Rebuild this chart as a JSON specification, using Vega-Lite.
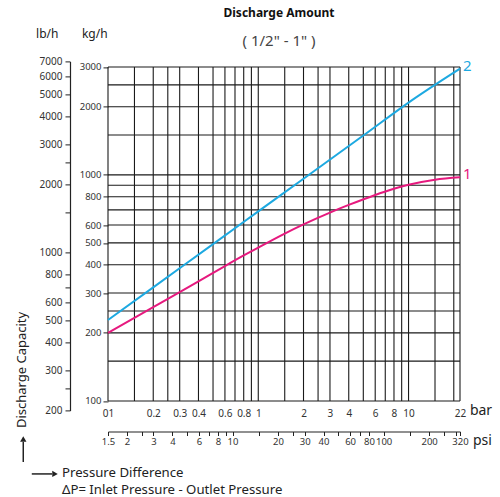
{
  "$schema": "https://vega.github.io/schema/vega-lite/v6.json",
  "autosize": {"type": "none"},
  "padding": {"left": 108, "top": 61.4, "right": 40, "bottom": 86.5},
  "width": 352,
  "height": 349.1,
  "background": "white",
  "config": {"font": "Noto Sans", "view": {"stroke": null}},
  "title": {
    "text": "Discharge Amount",
    "subtitle": "(  1/2\"  -   1\"  )",
    "frame": "group",
    "anchor": "middle",
    "offset": -22,
    "dx": -5,
    "fontSize": 12,
    "fontWeight": "bold",
    "color": "#111",
    "subtitleFontSize": 15,
    "subtitleColor": "#444",
    "subtitlePadding": 14
  },
  "datasets": {
    "vgrid": [
      {"bar": 0.1}, {"bar": 0.15}, {"bar": 0.2}, {"bar": 0.25}, {"bar": 0.3}, {"bar": 0.4}, {"bar": 0.5}, {"bar": 0.6}, {"bar": 0.7}, {"bar": 0.8}, {"bar": 0.9},
      {"bar": 1}, {"bar": 1.5}, {"bar": 2}, {"bar": 2.5}, {"bar": 3}, {"bar": 4}, {"bar": 5}, {"bar": 6}, {"bar": 7}, {"bar": 8}, {"bar": 9},
      {"bar": 10}, {"bar": 15}, {"bar": 20}, {"bar": 22}
    ],
    "hgrid": [
      {"kg": 100}, {"kg": 150}, {"kg": 200}, {"kg": 250}, {"kg": 300}, {"kg": 400}, {"kg": 500}, {"kg": 600}, {"kg": 700}, {"kg": 800}, {"kg": 900},
      {"kg": 1000}, {"kg": 1500}, {"kg": 2000}, {"kg": 2500}, {"kg": 3000}
    ],
    "curves": [
      {"s": "2", "bar": 0.1, "kg": 228}, {"s": "2", "bar": 0.2, "kg": 318}, {"s": "2", "bar": 0.5, "kg": 494}, {"s": "2", "bar": 1, "kg": 689},
      {"s": "2", "bar": 2, "kg": 961}, {"s": "2", "bar": 5, "kg": 1492}, {"s": "2", "bar": 10, "kg": 2088}, {"s": "2", "bar": 22, "kg": 2950},
      {"s": "1", "bar": 0.1, "kg": 200}, {"s": "1", "bar": 0.2, "kg": 260}, {"s": "1", "bar": 0.3, "kg": 303}, {"s": "1", "bar": 0.4, "kg": 338},
      {"s": "1", "bar": 0.6, "kg": 395}, {"s": "1", "bar": 0.8, "kg": 440}, {"s": "1", "bar": 1, "kg": 477}, {"s": "1", "bar": 1.5, "kg": 550},
      {"s": "1", "bar": 2, "kg": 604}, {"s": "1", "bar": 3, "kg": 681}, {"s": "1", "bar": 4, "kg": 736}, {"s": "1", "bar": 6, "kg": 815},
      {"s": "1", "bar": 8, "kg": 868}, {"s": "1", "bar": 10, "kg": 904}, {"s": "1", "bar": 15, "kg": 952}, {"s": "1", "bar": 22, "kg": 975}
    ]
  },
  "layer": [
    {
      "layer": [
        {
          "data": {"name": "vgrid"},
          "mark": {"type": "rule", "color": "#1a1a1a", "strokeWidth": 1.1},
          "encoding": {
            "x": {
              "field": "bar", "type": "quantitative",
              "scale": {"type": "log", "domain": [0.1, 22], "nice": false},
              "axis": {
                "orient": "bottom", "title": null,
                "values": [0.1, 0.2, 0.3, 0.4, 0.6, 0.8, 1, 2, 3, 4, 6, 8, 10, 22],
                "labelExpr": "datum.value == 0.1 ? '01' : format(datum.value, '~g')",
                "ticks": false, "domain": false, "grid": false,
                "offset": -3, "labelPadding": 1,
                "labelFontSize": 10, "labelColor": "#333",
                "labelFlush": false, "labelOverlap": false
              }
            },
            "y": {
              "datum": 100, "type": "quantitative",
              "scale": {"type": "log", "domain": [90.72, 3175.2], "nice": false},
              "axis": {
                "orient": "left", "title": null,
                "values": [100, 200, 300, 400, 500, 600, 800, 1000, 2000, 3000],
                "format": "d",
                "tickSize": 5, "tickColor": "#222", "domain": false, "grid": false,
                "labelPadding": 2, "labelFontSize": 9.5, "labelColor": "#333",
                "labelOverlap": false
              }
            },
            "y2": {"datum": 3000}
          }
        },
        {
          "data": {"name": "hgrid"},
          "mark": {"type": "rule", "color": "#1a1a1a", "strokeWidth": 1.1},
          "encoding": {
            "y": {"field": "kg", "type": "quantitative", "axis": {"title": null}},
            "x": {"datum": 0.1, "type": "quantitative", "axis": {"title": null}},
            "x2": {"datum": 22}
          }
        },
        {
          "data": {"name": "curves"},
          "mark": {"type": "line", "strokeWidth": 2, "interpolate": "monotone"},
          "encoding": {
            "x": {"field": "bar", "type": "quantitative", "axis": {"title": null}},
            "y": {"field": "kg", "type": "quantitative", "axis": {"title": null}},
            "color": {"field": "s", "type": "nominal", "scale": {"domain": ["1", "2"], "range": ["#e6197e", "#1da9e1"]}, "legend": null}
          }
        },
        {
          "data": {"name": "curves"},
          "transform": [{"filter": "datum.bar == 22"}],
          "mark": {"type": "text", "align": "left", "baseline": "middle", "dx": 3, "dy": -3, "fontSize": 15},
          "encoding": {
            "x": {"field": "bar", "type": "quantitative", "axis": {"title": null}},
            "y": {"field": "kg", "type": "quantitative", "axis": {"title": null}},
            "text": {"field": "s"},
            "color": {"field": "s", "type": "nominal", "legend": null}
          }
        },
        {
          "data": {"values": [{}]},
          "mark": {"type": "text", "align": "left", "baseline": "middle", "fontSize": 12, "color": "#222"},
          "encoding": {"x": {"datum": 0.0332, "type": "quantitative"}, "y": {"datum": 4200, "type": "quantitative"}, "text": {"value": "lb/h"}}
        },
        {
          "data": {"values": [{}]},
          "mark": {"type": "text", "align": "left", "baseline": "middle", "fontSize": 12, "color": "#222"},
          "encoding": {"x": {"datum": 0.0671, "type": "quantitative"}, "y": {"datum": 4200, "type": "quantitative"}, "text": {"value": "kg/h"}}
        },
        {
          "data": {"values": [{}]},
          "mark": {"type": "text", "align": "center", "baseline": "middle", "angle": 270, "fontSize": 13, "color": "#222"},
          "encoding": {"x": {"datum": 0.0268, "type": "quantitative"}, "y": {"datum": 137.1, "type": "quantitative"}, "text": {"value": "Discharge Capacity"}}
        },
        {
          "data": {"values": [{}]},
          "mark": {"type": "rule", "color": "#222", "strokeWidth": 1.5},
          "encoding": {"x": {"datum": 0.0273, "type": "quantitative"}, "y": {"datum": 53.7, "type": "quantitative"}, "y2": {"datum": 65.9}}
        },
        {
          "data": {"values": [{}]},
          "mark": {"type": "point", "shape": "triangle-up", "filled": true, "size": 40, "color": "#222", "opacity": 1},
          "encoding": {"x": {"datum": 0.0273, "type": "quantitative"}, "y": {"datum": 67.9, "type": "quantitative"}}
        },
        {
          "data": {"values": [{}]},
          "mark": {"type": "rule", "color": "#222", "strokeWidth": 1.5},
          "encoding": {"x": {"datum": 0.0311, "type": "quantitative"}, "x2": {"datum": 0.0424}, "y": {"datum": 47.55, "type": "quantitative"}}
        },
        {
          "data": {"values": [{}]},
          "mark": {"type": "point", "shape": "triangle-right", "filled": true, "size": 40, "color": "#222", "opacity": 1},
          "encoding": {"x": {"datum": 0.0444, "type": "quantitative"}, "y": {"datum": 47.55, "type": "quantitative"}}
        },
        {
          "data": {"values": [{}]},
          "mark": {"type": "text", "align": "left", "baseline": "middle", "fontSize": 13.2, "color": "#222"},
          "encoding": {"x": {"datum": 0.0494, "type": "quantitative"}, "y": {"datum": 47.9, "type": "quantitative"}, "text": {"value": "Pressure  Difference"}}
        },
        {
          "data": {"values": [{}]},
          "mark": {"type": "text", "align": "left", "baseline": "middle", "fontSize": 13.2, "color": "#222"},
          "encoding": {"x": {"datum": 0.0494, "type": "quantitative"}, "y": {"datum": 40.4, "type": "quantitative"}, "text": {"value": "ΔP= Inlet Pressure - Outlet Pressure"}}
        },
        {
          "data": {"values": [{}]},
          "mark": {"type": "text", "align": "left", "baseline": "middle", "fontSize": 14, "color": "#222"},
          "encoding": {"x": {"datum": 25.6, "type": "quantitative"}, "y": {"datum": 90.3, "type": "quantitative"}, "text": {"value": "bar"}}
        },
        {
          "data": {"values": [{}]},
          "mark": {"type": "text", "align": "left", "baseline": "middle", "fontSize": 14, "color": "#222"},
          "encoding": {"x": {"datum": 26.85, "type": "quantitative"}, "y": {"datum": 66.5, "type": "quantitative"}, "text": {"value": "psi"}}
        }
      ]
    },
    {
      "data": {"values": [{"lb": 200}, {"lb": 7000}]},
      "mark": {"type": "point", "opacity": 0},
      "encoding": {
        "y": {
          "field": "lb", "type": "quantitative",
          "scale": {"type": "log", "domain": [200, 7000], "nice": false},
          "axis": {
            "orient": "left", "offset": 38, "title": null,
            "values": [200, 250, 300, 400, 500, 600, 700, 800, 1000, 1500, 2000, 2500, 3000, 4000, 5000, 6000, 7000],
            "labelExpr": "indexof([250, 700, 1500, 2500], datum.value) >= 0 ? '' : format(datum.value, 'd')",
            "tickSize": 5, "tickColor": "#222", "domainColor": "#222", "domainWidth": 1.2, "grid": false,
            "labelPadding": 3, "labelFontSize": 10, "labelColor": "#333", "labelOverlap": false
          }
        }
      }
    },
    {
      "data": {"values": [{"psi": 1.5}, {"psi": 320}]},
      "mark": {"type": "point", "opacity": 0},
      "encoding": {
        "x": {
          "field": "psi", "type": "quantitative",
          "scale": {"type": "log", "domain": [1.5, 320], "nice": false},
          "axis": {
            "orient": "bottom", "offset": 21, "title": null,
            "values": [1.5, 2, 2.5, 3, 4, 5, 6, 7, 8, 9, 10, 15, 20, 25, 30, 40, 50, 60, 70, 80, 100, 150, 200, 250, 300, 320],
            "labelExpr": "indexof([2.5, 5, 7, 9, 15, 25, 50, 70, 150, 250, 300], datum.value) >= 0 ? '' : format(datum.value, '~g')",
            "tickSize": 4, "tickColor": "#222", "domainColor": "#222", "domainWidth": 1.2, "grid": false,
            "labelPadding": 1, "labelFontSize": 9.5, "labelColor": "#333",
            "labelFlush": false, "labelOverlap": false
          }
        }
      }
    }
  ],
  "resolve": {"scale": {"x": "independent", "y": "independent"}}
}
